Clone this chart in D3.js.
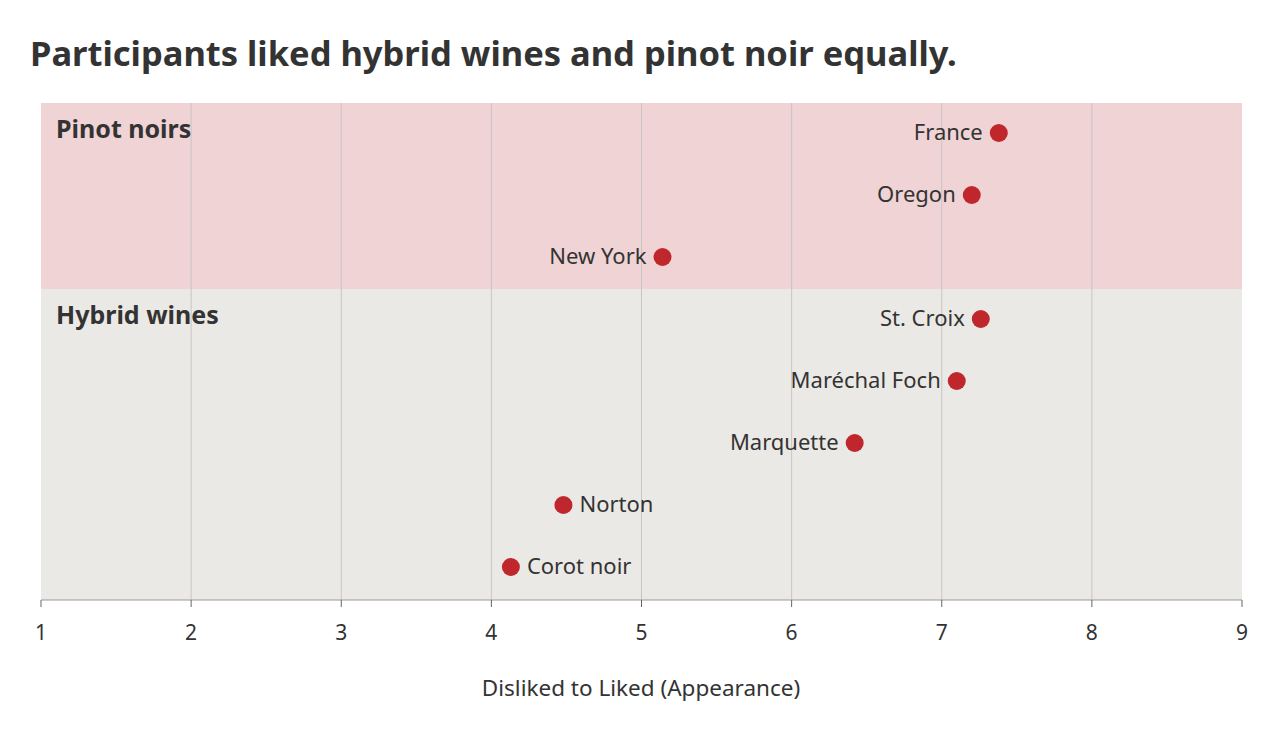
<!DOCTYPE html>
<html><head><meta charset="utf-8">
<script src="https://cdn.jsdelivr.net/npm/d3@7"></script>
<style>body{margin:0;background:#fff;font-family:"Noto Sans",sans-serif}</style>
</head><body><svg id="c" width="1280" height="754"></svg>
<script>
const pinotNames = ["France","Oregon","New York"];
const pinotValues = [7.38,7.20,5.14];
const hybridNames = ["St. Croix","Maréchal Foch","Marquette","Norton","Corot noir"];
const hybridValues = [7.26,7.10,6.42,4.48,4.13];
const labelRight = ["Norton","Corot noir"];
const ticks = [1,2,3,4,5,6,7,8,9];

const svg = d3.select("#c");
const x = d3.scaleLinear().domain([1,9]).range([41,1242]);
const rows = pinotNames.concat(hybridNames);
const vals = pinotValues.concat(hybridValues);
const y = d3.scalePoint().domain(rows).range([133,567]);

svg.append("text").attr("x",30).attr("y",66).attr("font-size",34.5).attr("font-weight",700)
  .attr("fill","#333").text("Participants liked hybrid wines and pinot noir equally.");

svg.append("rect").attr("x",41).attr("y",103).attr("width",1201).attr("height",186).attr("fill","#f0d3d4");
svg.append("rect").attr("x",41).attr("y",289).attr("width",1201).attr("height",311).attr("fill","#ebe9e6");

svg.selectAll(".g").data(ticks.slice(1,-1)).join("line").attr("x1",d=>x(d)).attr("x2",d=>x(d))
  .attr("y1",103).attr("y2",600).attr("stroke","#c8c4c2").attr("stroke-width",1);

svg.append("text").attr("x",56).attr("y",138).attr("font-size",25).attr("font-weight",700).attr("fill","#333").text("Pinot noirs");
svg.append("text").attr("x",56).attr("y",324).attr("font-size",25).attr("font-weight",700).attr("fill","#333").text("Hybrid wines");

svg.selectAll(".d").data(rows).join("circle").attr("cx",(d,i)=>x(vals[i])).attr("cy",d=>y(d))
  .attr("r",9).attr("fill","#c0272d");
svg.selectAll(".l").data(rows).join("text")
  .attr("x",(d,i)=>labelRight.includes(d)? x(vals[i])+16 : x(vals[i])-16)
  .attr("y",d=>y(d)+7).attr("text-anchor",d=>labelRight.includes(d)?"start":"end")
  .attr("font-size",22).attr("fill","#333").text(d=>d);

svg.append("line").attr("x1",41).attr("x2",1242).attr("y1",600).attr("y2",600).attr("stroke","#999");
svg.selectAll(".tk").data(ticks).join("line").attr("x1",d=>x(d)).attr("x2",d=>x(d)).attr("y1",600).attr("y2",607).attr("stroke","#666");
svg.selectAll(".tl").data(ticks).join("text").attr("x",d=>x(d)).attr("y",640).attr("text-anchor","middle")
  .attr("font-size",21).attr("fill","#333").text(d=>d);
svg.append("text").attr("x",641).attr("y",696).attr("text-anchor","middle").attr("font-size",22.5).attr("fill","#333")
  .text("Disliked to Liked (Appearance)");
</script></body></html>
